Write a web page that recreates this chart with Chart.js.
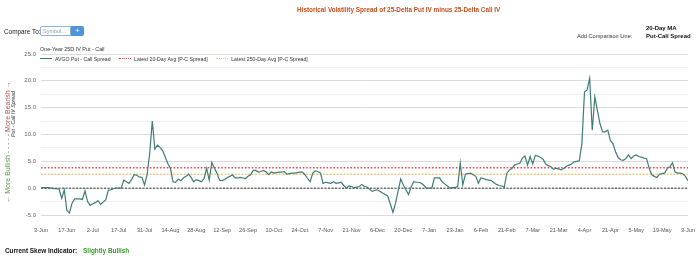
<!DOCTYPE html>
<html>
<head>
<meta charset="utf-8">
<script src="https://cdn.jsdelivr.net/npm/chart.js@4.4.1/dist/chart.umd.min.js"></script>
<style>
  body { margin: 0; background: #fff; font-family: "Liberation Sans", Arial, sans-serif; }
  #wrap { position: relative; width: 699px; height: 261px; overflow: hidden; }
  #chart { position: absolute; left: 0; top: 0; }
  .abs { position: absolute; white-space: nowrap; line-height: 1; }
  #title { left: 297px; top: 7px; font-size: 6.4px; font-weight: bold; color: #c4501f; }
  #cmp { left: 4px; top: 29px; font-size: 6.4px; color: #222; }
  #sym { left: 40px; top: 26px; width: 31px; height: 10px; border: 1px solid #8fb3dc; border-radius: 2px 0 0 2px; font-size: 5.5px; color: #999; box-sizing: border-box; padding: 2px 0 0 2px; }
  #plus { left: 71px; top: 26px; width: 13px; height: 10px; background: #4f93d8; border-radius: 0 2px 2px 0; color: #fff; font-size: 8px; text-align: center; line-height: 10px; }
  #addl { left: 577px; top: 34px; font-size: 5.6px; color: #333; }
  #ma1 { left: 646px; top: 25px; font-size: 6px; font-weight: bold; color: #111; }
  #ma2 { left: 646px; top: 33px; font-size: 6px; font-weight: bold; color: #111; }
  #sub { left: 40px; top: 47px; font-size: 5.4px; color: #333; }
  #legend { left: 40px; top: 57px; font-size: 5.2px; color: #333; }
  #legend span.it { display: inline-block; margin-right: 7px; }
  #legend span.ln { display: inline-block; width: 12px; vertical-align: middle; margin-right: 3px; position: relative; top: -1px; }
  #ytitle { left: 14px; top: 114px; font-size: 5.2px; font-style: italic; color: #333; transform: translate(-50%, -50%) rotate(-90deg); }
  #outer { left: 7px; top: 142px; font-size: 7px; transform: translate(-50%, -50%) rotate(-90deg); }
  #skew { left: 5px; top: 248px; font-size: 6.4px; font-weight: bold; color: #111; }
  #skew b { color: #3a9a2a; margin-left: 6px; }
</style>
</head>
<body>
<div id="wrap">
  <canvas id="chart" width="699" height="261"></canvas>
  <div class="abs" id="title">Historical Volatility Spread of 25-Delta Put IV minus 25-Delta Call IV</div>
  <div class="abs" id="cmp">Compare To:</div>
  <div class="abs" id="sym">Symbol...</div>
  <div class="abs" id="plus">+</div>
  <div class="abs" id="addl">Add Comparison Line:</div>
  <div class="abs" id="ma1">20-Day MA</div>
  <div class="abs" id="ma2">Put-Call Spread</div>
  <div class="abs" id="sub">One-Year 25D IV Put - Call</div>
  <div class="abs" id="legend">
    <span class="it"><span class="ln" style="border-top:1.3px solid #3e7c79"></span>AVGO Put - Call Spread</span>
    <span class="it"><span class="ln" style="border-top:1.6px dotted #e0504f"></span>Latest 20-Day Avg [P-C Spread]</span>
    <span class="it"><span class="ln" style="border-top:1.6px dotted #f8c56a"></span>Latest 250-Day Avg [P-C Spread]</span>
  </div>
  <div class="abs" id="ytitle">Put - Call IV Spread</div>
  <div class="abs" id="outer"><span style="color:#5b9e4c">&larr; More Bullish</span><span style="color:#777"> - - - - - </span><span style="color:#b5524a">More Bearish &rarr;</span></div>
  <div class="abs" id="skew">Current Skew Indicator:<b>Slightly Bullish</b></div>
</div>
<script>
// one value per trading day, 3-Jun to 3-Jun
const spread = [
  0.1, 0.1, 0.1, 0.1, 0.0, -0.1, -0.1, -0.2, -1.9, -0.3,
  -4.2, -4.6, -2.8, -2.0, -2.0, -2.0, -2.1, -0.5, -2.5, -3.2,
  -2.9, -2.7, -2.3, -3.0, -2.6, -2.2, -0.4, -0.3, -0.1, 0.0,
  0.0, 0.0, 1.5, 1.2, 0.9, 1.6, 2.5, 2.4, 2.1, 2.0,
  0.6, 2.5, 6.5, 12.5, 7.3, 8.0, 7.6, 7.0, 5.8, 4.6,
  3.7, 1.2, 1.1, 1.7, 1.4, 1.9, 2.2, 2.6, 2.0, 1.2,
  1.6, 1.4, 1.2, 1.8, 3.7, 1.5, 4.8, 3.7, 2.8, 1.5,
  1.4, 1.6, 2.0, 2.2, 2.5, 1.9, 1.9, 2.0, 1.9, 1.8,
  2.2, 2.5, 3.3, 3.3, 3.0, 3.1, 3.3, 3.0, 2.5, 3.0,
  2.8, 2.9, 3.0, 3.0, 3.1, 2.6, 2.7, 2.8, 2.8, 2.9,
  3.0, 3.0, 2.5, 1.8, 1.2, 2.8, 3.2, 3.1, 2.8, 0.9,
  1.1, 1.0, 0.9, 1.2, 0.9, 1.0, 1.1, 0.5, 0.0, 0.4,
  0.3, 0.1, 0.2, 0.3, 0.7, 0.3, 0.2, -0.2, -0.6, -0.4,
  -0.3, -0.6, -0.9, -1.2, -1.5, -3.0, -4.5, -2.8, -0.5, 1.7,
  0.6, -0.3, -1.2, 0.2, 1.2, 1.1, 1.1, 0.9, 0.5, 0.0,
  0.0, 0.0, 1.9, 1.9, 1.9, 1.2, 0.8, 0.4, 0.0, 0.1,
  0.1, 0.3, 4.7, 0.6, 2.6, 2.7, 2.8, 2.5, 2.2, 0.9,
  1.9, 1.8, 1.6, 1.5, 1.4, 1.0, 0.7, 0.5, 0.4, 0.2,
  2.8, 3.4, 3.7, 4.3, 4.5, 4.6, 5.6, 6.0, 4.3, 5.9,
  4.5, 6.1, 6.0, 5.7, 5.4, 4.5, 4.2, 4.0, 3.5, 3.7,
  3.6, 3.4, 3.7, 4.1, 4.3, 4.5, 4.9, 5.0, 5.1, 8.3,
  17.9, 18.3, 20.5, 10.8, 17.0, 14.5, 12.0, 10.5, 10.5, 10.8,
  8.9, 8.3, 6.8, 5.7, 5.3, 5.2, 5.5, 6.2, 5.5, 6.0,
  6.2, 5.9, 5.8, 5.6, 5.5, 3.7, 2.5, 2.2, 2.0, 2.6,
  2.7, 2.8, 3.7, 4.0, 4.75, 3.0, 2.8, 2.8, 2.7, 2.2,
  1.4
];
// labels for every 10th trading day
const xTickLabels = ["3-Jun", "17-Jun", "2-Jul", "17-Jul", "31-Jul", "14-Aug", "28-Aug", "12-Sep", "26-Sep",
  "10-Oct", "24-Oct", "7-Nov", "21-Nov", "6-Dec", "20-Dec", "7-Jan", "23-Jan", "6-Feb", "21-Feb",
  "7-Mar", "21-Mar", "4-Apr", "21-Apr", "5-May", "19-May", "3-Jun"];
const avg20 = 3.8;
const avg250 = 2.6;
const yMin = -5, yMax = 25;

const last = spread.length - 1;
const flat = (v) => [{ x: 0, y: v }, { x: last, y: v }];

new Chart(document.getElementById("chart"), {
    type: "line",
    data: {
        datasets: [{
            label: "AVGO Put - Call Spread",
            data: spread.map((v, i) => ({ x: i, y: v })),
            borderColor: "#3e7c79",
            borderWidth: 1.2,
            pointRadius: 0,
            order: 0
        }, {
            label: "Latest 20-Day Avg [P-C Spread]",
            data: flat(avg20),
            borderColor: "#e0504f",
            borderDash: [1.6, 1.8],
            borderWidth: 1.6,
            pointRadius: 0,
            order: 1
        }, {
            label: "Latest 250-Day Avg [P-C Spread]",
            data: flat(avg250),
            borderColor: "#f8c56a",
            borderDash: [1.6, 1.8],
            borderWidth: 1.6,
            pointRadius: 0,
            order: 2
        }, {
            label: "zero",
            data: flat(0),
            borderColor: "#333",
            borderDash: [2, 1.5],
            borderWidth: 1,
            pointRadius: 0,
            order: 3
        }]
    },
    options: {
        responsive: false,
        animation: false,
        devicePixelRatio: 1,
        layout: { padding: { left: 0, top: 54, right: 9, bottom: 26 } },
        plugins: {
            legend: { display: false },
            tooltip: { enabled: false }
        },
        scales: {
            x: {
                type: "linear",
                min: 0,
                max: last,
                grid: { display: false },
                border: { display: false },
                afterFit: (s) => { s.height = 20; },
                ticks: {
                    stepSize: 10,
                    autoSkip: false,
                    maxRotation: 0,
                    padding: 4,
                    color: "#555",
                    font: { family: "Liberation Sans", size: 5.6 },
                    callback: (v) => xTickLabels[v / 10]
                }
            },
            y: {
                min: yMin,
                max: yMax,
                grid: {
                    drawTicks: false,
                    color: (c) => (c.tick && c.tick.value % 5 === 0) ? "#dcdcdc" : "#efefef"
                },
                border: { display: false },
                afterFit: (s) => { s.width = 41; },
                ticks: {
                    stepSize: 2.5,
                    padding: 5,
                    color: "#666",
                    font: { family: "Liberation Sans", size: 6 },
                    callback: (v) => v % 5 === 0 ? v.toFixed(1) : ""
                }
            }
        }
    }
});
</script>
</body>
</html>
